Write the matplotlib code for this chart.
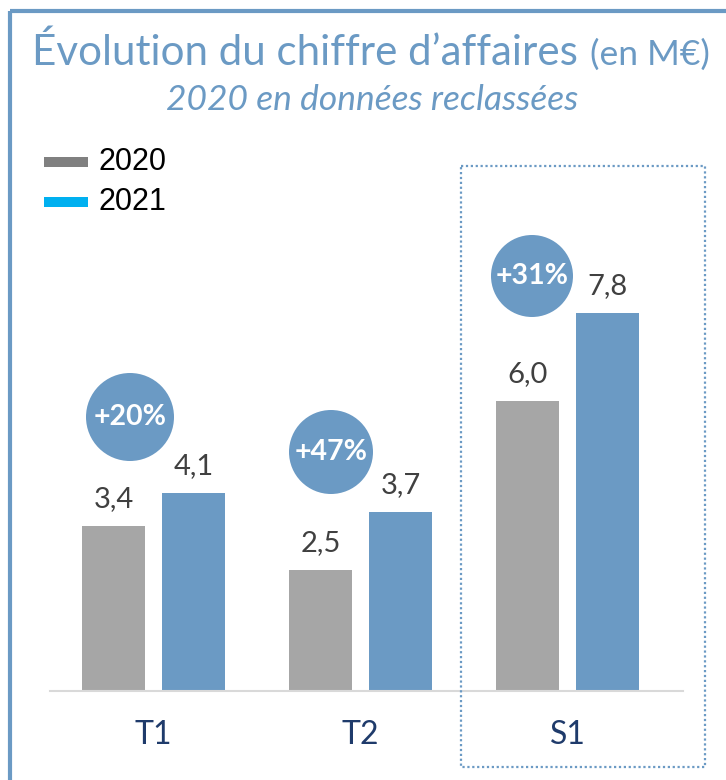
import matplotlib
matplotlib.use("Agg")
import matplotlib.pyplot as plt
from matplotlib.patches import Rectangle, Circle
import numpy as np

categories = ["T1", "T2", "S1"]
series_names = ["2020", "2021"]
values_2020 = [3.4, 2.5, 6.0]
values_2021 = [4.1, 3.7, 7.8]
growth_labels = ["+20%", "+47%", "+31%"]

def fmt(v):
    return f"{v:.1f}".replace(".", ",")

W, H = 726, 780
fig = plt.figure(figsize=(W / 100, H / 100), dpi=100)

BLUE = "#6B9AC4"
GRAY = "#A6A6A6"
NAVY = "#1F3B6B"
FONT = "Lato"

# main axes (pixel geometry)
ax_left, ax_right, ax_base, ax_top = 50, 683, 691, 150
ax = fig.add_axes([ax_left / W, (H - ax_base) / H, (ax_right - ax_left) / W, (ax_base - ax_top) / H])
px_per_unit = 48.4
ax.set_ylim(0, (ax_base - ax_top) / px_per_unit)
ax.set_xlim(-0.5, 2.558)

x = np.arange(len(categories))
bw = 0.304
off = 0.193
b1 = ax.bar(x - off, values_2020, bw, color=GRAY, zorder=2)
b2 = ax.bar(x + off, values_2021, bw, color=BLUE, zorder=2)

for bars, vals in ((b1, values_2020), (b2, values_2021)):
    for rect, v in zip(bars, vals):
        ax.annotate(fmt(v), (rect.get_x() + rect.get_width() / 2, v),
                    xytext=(0, 19), textcoords="offset pixels",
                    ha="center", va="baseline", fontsize=21,
                    family=FONT, color="#404040")

for s in ("left", "right", "top"):
    ax.spines[s].set_visible(False)
ax.spines["bottom"].set_color("#D9D9D9")
ax.spines["bottom"].set_linewidth(1.5)
ax.set_yticks([])
ax.set_xticks(x, categories)
ax.tick_params(axis="x", length=0, pad=21, labelsize=23, labelcolor=NAVY)
for lab in ax.get_xticklabels():
    lab.set_family(FONT)
ax.patch.set_alpha(0)

# overlay axes in pixel coords
ov = fig.add_axes([0, 0, 1, 1])
ov.set_xlim(0, W)
ov.set_ylim(H, 0)
ov.axis("off")
ov.patch.set_alpha(0)

# outer frame
ov.add_patch(Rectangle((9.5, 11), 900, 900, fill=False, ec=BLUE, lw=3))

# title
renderer = fig.canvas.get_renderer()
t1 = ov.text(32, 65, "Évolution du chiffre d\u2019affaires", fontsize=30.3, family=FONT,
             color=BLUE, ha="left", va="baseline")
bb = t1.get_window_extent(renderer)
inv = ov.transData.inverted()
x_end = inv.transform((bb.x1, bb.y0))[0]
ov.text(x_end + 12, 65, "(en M\u20ac)", fontsize=25.5, family=FONT,
        color=BLUE, ha="left", va="baseline")
ov.text(372, 110, "2020 en données reclassées", fontsize=25.5, family=FONT, style="italic",
        color=BLUE, ha="center", va="baseline")

# legend
leg_colors = ["#808080", "#00B0F0"]
for i, (name, c) in enumerate(zip(series_names, leg_colors)):
    y = 162 + i * 40
    ov.add_patch(Rectangle((44, y - 5), 44, 10, color=c, lw=0))
    ov.text(98, y, name, fontsize=22, family="Liberation Sans", color="black",
            ha="left", va="center")

# growth bubbles
bubble_pos = [(130, 417, 44), (331, 452, 42), (532, 276, 41)]
for (cx, cy, r), lab in zip(bubble_pos, growth_labels):
    ov.add_patch(Circle((cx, cy), r, color=BLUE, lw=0))
    ov.text(cx, cy, lab, fontsize=20.5, family=FONT, weight="bold", color="white",
            ha="center", va="center")

# dotted box around S1
ov.add_patch(Rectangle((461, 166), 244, 601, fill=False, ec=BLUE, lw=1.6,
                       linestyle=(0, (1, 1.2))))

fig.savefig("out.png", dpi=100)
